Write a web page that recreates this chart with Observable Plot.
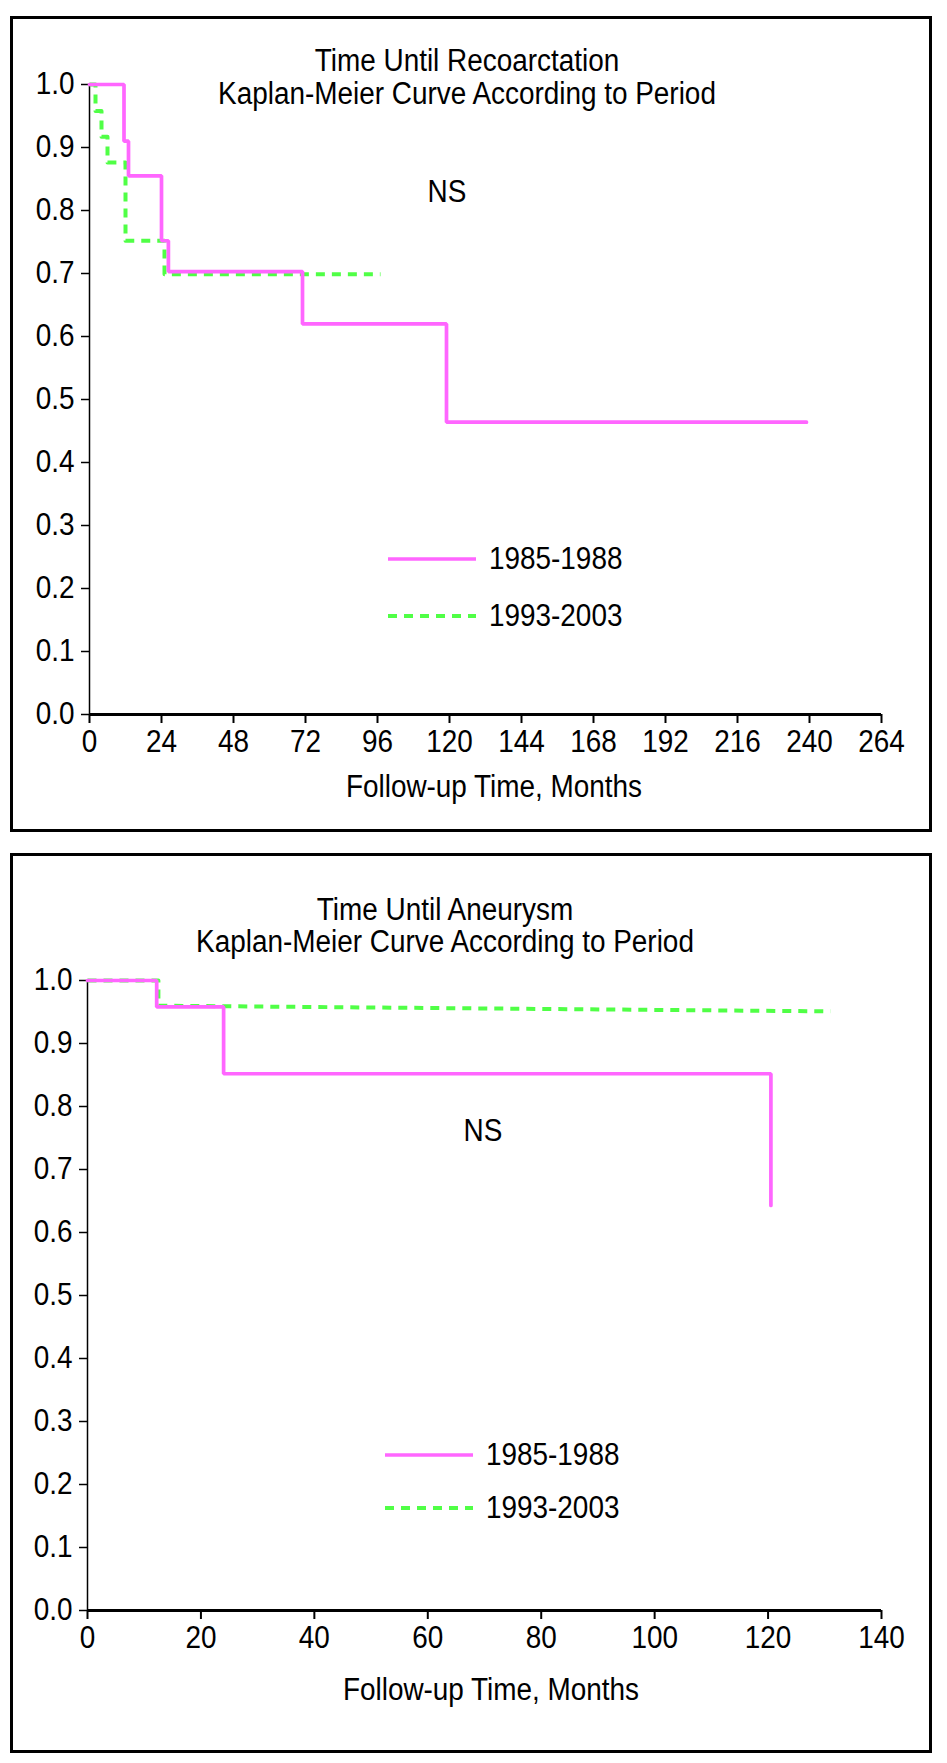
<!DOCTYPE html>
<html>
<head>
<meta charset="utf-8">
<script src="https://cdn.jsdelivr.net/npm/d3@7"></script>
<script src="https://cdn.jsdelivr.net/npm/@observablehq/plot@0.6"></script>
<style>
  html, body { margin: 0; padding: 0; background: #fff; }
  #page { position: relative; width: 947px; height: 1763px; background: #fff; overflow: hidden;
          font-family: "Liberation Sans", Arial, sans-serif; color: #000; }
  .frame { position: absolute; box-sizing: border-box; border: 3px solid #000; }
  .plot { position: absolute; left: 0; }
  .txt { position: absolute; white-space: nowrap; line-height: 0.9; font-size: 31px;
         transform-origin: center center; transform: translate(-50%, -50%) scaleX(0.9); }
  .leg { position: absolute; white-space: nowrap; line-height: 0.9; font-size: 31px;
         transform-origin: left center; transform: translateY(-50%) scaleX(0.9); }
  .sw { position: absolute; }
</style>
</head>
<body>
<div id="page">
  <div class="frame" style="left:10px;top:16px;width:922px;height:816px"></div>
  <div class="frame" style="left:10px;top:853px;width:922px;height:900px"></div>
  <div id="plotTop" class="plot" style="top:0px"></div>
  <div id="plotBottom" class="plot" style="top:845px"></div>
  <div id="overlay"></div>
</div>
<script>
// ---------- data ----------
const seriesNames = ["1985-1988", "1993-2003"];
const seriesColors = ["#ff66ff", "#50ff46"];

// Panel A: Time until recoarctation (step-after Kaplan-Meier points)
const recoTime8588 = [0, 11.5, 13, 24, 26.3, 71, 119, 239];
const recoSurv8588 = [1.0, 0.91, 0.855, 0.752, 0.703, 0.62, 0.464, 0.464];
const recoTime9303 = [0, 2, 4, 6, 12, 25, 97];
const recoSurv9303 = [1.0, 0.958, 0.917, 0.876, 0.752, 0.699, 0.699];

// Panel B: Time until aneurysm
const aneuTime8588 = [0, 12.2, 24, 120.5];
const aneuSurv8588 = [1.0, 0.958, 0.852, 0.643];
// green curve read as polyline vertices (slow drift after the first step)
const aneuTime9303 = [0, 12.5, 12.5, 131];
const aneuSurv9303 = [1.0, 1.0, 0.960, 0.951];

const yTicks = [0, 0.1, 0.2, 0.3, 0.4, 0.5, 0.6, 0.7, 0.8, 0.9, 1.0];
const xTicksTop = [0, 24, 48, 72, 96, 120, 144, 168, 192, 216, 240, 264];
const xTicksBottom = [0, 20, 40, 60, 80, 100, 120, 140];

const titlesTop = ["Time Until Recoarctation", "Kaplan-Meier Curve According to Period"];
const titlesBottom = ["Time Until Aneurysm", "Kaplan-Meier Curve According to Period"];
const xLabel = "Follow-up Time, Months";
const annotation = "NS";

// ---------- helpers ----------
const toRows = (ts, ss, name) => ts.map((t, i) => ({t, s: ss[i], name}));
const FONT = '"Liberation Sans", Arial, sans-serif';
const CONDENSE = 0.9;

function condenseTicks(svg) {
  svg.querySelectorAll('g[aria-label$="tick label"] text').forEach(t => {
    const x = +t.getAttribute("x") || 0, y = +t.getAttribute("y") || 0;
    const tr = t.getAttribute("transform") || "";
    t.setAttribute("transform", `${tr} translate(${x},${y}) scale(${CONDENSE},1) translate(${-x},${-y})`);
  });
  return svg;
}

function panel({xDomain, xTicks, rowsA, rowsB, curveB, height, mt, mb, ml, mr}) {
  const svg = Plot.plot({
    width: 947, height,
    marginTop: mt, marginBottom: mb, marginLeft: ml, marginRight: mr,
    style: {fontFamily: FONT, fontSize: "31px", background: "transparent", color: "#000"},
    x: {domain: xDomain},
    y: {domain: [0, 1]},
    marks: [
      Plot.axisY({ticks: yTicks, tickFormat: d3.format(".1f"), tickSize: 8, tickPadding: 7, strokeWidth: 1.5, label: null, fontSize: 31}),
      Plot.axisX({ticks: xTicks, tickFormat: d => String(d), tickSize: 9, tickPadding: 6, strokeWidth: 2, label: null, fontSize: 31}),
      Plot.ruleX([0], {stroke: "#000", strokeWidth: 1.5}),
      Plot.ruleY([0], {stroke: "#000", strokeWidth: 3}),
      Plot.line(rowsB, {x: "t", y: "s", stroke: seriesColors[1], strokeWidth: 4, strokeDasharray: "9,7", curve: curveB, strokeLinecap: "butt"}),
      Plot.line(rowsA, {x: "t", y: "s", stroke: seriesColors[0], strokeWidth: 3.7, curve: "step-after", strokeLinejoin: "miter"})
    ]
  });
  return condenseTicks(svg);
}

document.getElementById("plotTop").append(panel({
  xDomain: [0, 264], xTicks: xTicksTop,
  rowsA: toRows(recoTime8588, recoSurv8588, seriesNames[0]),
  rowsB: toRows(recoTime9303, recoSurv9303, seriesNames[1]),
  curveB: "step-after",
  height: 840, mt: 84, mb: 126, ml: 89, mr: 66
}));

document.getElementById("plotBottom").append(panel({
  xDomain: [0, 140], xTicks: xTicksBottom,
  rowsA: toRows(aneuTime8588, aneuSurv8588, seriesNames[0]),
  rowsB: toRows(aneuTime9303, aneuSurv9303, seriesNames[1]),
  curveB: "linear",
  height: 918, mt: 135, mb: 153, ml: 87, mr: 66
}));

// ---------- text overlays ----------
const ov = document.getElementById("overlay");
function txt(s, x, y) {
  const d = document.createElement("div");
  d.className = "txt"; d.textContent = s;
  d.style.left = x + "px"; d.style.top = y + "px";
  ov.append(d);
}
function legend(x0, x1, xText, yA, yB) {
  [yA, yB].forEach((y, i) => {
    const svg = document.createElementNS("http://www.w3.org/2000/svg", "svg");
    svg.setAttribute("class", "sw");
    svg.setAttribute("width", x1 - x0); svg.setAttribute("height", 10);
    svg.style.left = x0 + "px"; svg.style.top = (y - 5) + "px";
    const l = document.createElementNS("http://www.w3.org/2000/svg", "line");
    l.setAttribute("x1", 0); l.setAttribute("x2", x1 - x0);
    l.setAttribute("y1", 5); l.setAttribute("y2", 5);
    l.setAttribute("stroke", seriesColors[i]);
    l.setAttribute("stroke-width", i === 0 ? 3.7 : 4);
    if (i === 1) l.setAttribute("stroke-dasharray", "9,7");
    svg.append(l);
    ov.append(svg);
    const d = document.createElement("div");
    d.className = "leg"; d.textContent = seriesNames[i];
    d.style.left = xText + "px"; d.style.top = y + "px";
    ov.append(d);
  });
}

txt(titlesTop[0], 467, 61);
txt(titlesTop[1], 467, 94);
txt(annotation, 447, 192);
txt(xLabel, 494, 787);
legend(388, 476, 489, 559, 616);

txt(titlesBottom[0], 445, 910);
txt(titlesBottom[1], 445, 942);
txt(annotation, 483, 1131);
txt(xLabel, 491, 1690);
legend(385, 473, 486, 1455, 1508);
</script>
</body>
</html>
